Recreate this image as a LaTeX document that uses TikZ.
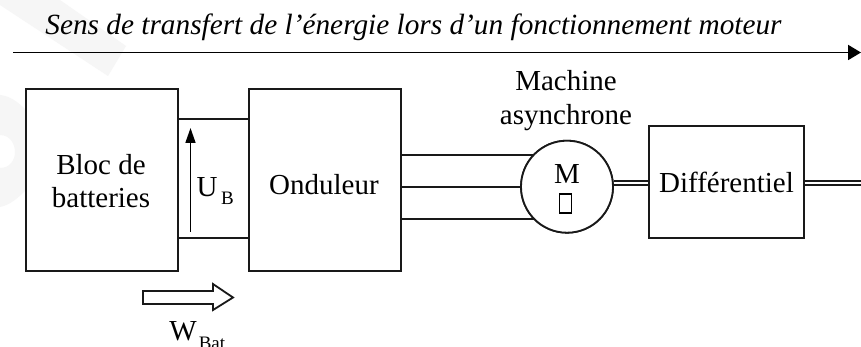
\documentclass[tikz,border=0pt]{standalone}
\usepackage{fontspec}
\setmainfont{Liberation Serif}
\usetikzlibrary{arrows.meta}
\definecolor{wm}{HTML}{F6F6F6}
\tikzset{
  ln/.style={line width=1.8pt,draw=black!90},
  blockbox/.style={ln,rectangle,inner sep=0pt,align=center,font=\fontsize{29}{34}\selectfont},
  lab/.style={anchor=base,inner sep=0pt,font=\fontsize{29}{34}\selectfont},
  subl/.style={anchor=base,inner sep=0pt,font=\fontsize{19}{22}\selectfont},
  dbl/.style={line width=1.6pt,draw=black!90,double=white,double distance=2.4pt},
}
\begin{document}
\begin{tikzpicture}[x=1pt,y=-1pt]
\useasboundingbox (0,0) rectangle (861,347);
\fill[white] (0,0) rectangle (861,347);
\fill[wm] (60,0) -- (126,46) -- (108,76) -- (0,5) -- (0,0) -- cycle;
\fill[wm] (0,95) .. controls (10,96) and (18,102) .. (26,110) -- (26,190) .. controls (18,198) and (10,205) .. (0,207) -- (0,168) .. controls (10,168) and (15,160) .. (15,152) .. controls (15,144) and (10,135) .. (0,135) -- cycle;
% title
\node[anchor=base,inner sep=0pt,font=\itshape\fontsize{29.3}{34}\selectfont] (title) at (413.5,35) {Sens de transfert de l’énergie lors d’un fonctionnement moteur};
\coordinate (fs) at (13,52.5);
\coordinate (fe) at (861,52.5);
\draw[line width=1.9pt,-{Triangle[length=13pt,width=15pt]}] (fs) -- (fe);
% blocks
\node[blockbox,minimum width=152pt,minimum height=182pt] (bat) at (102,180) {};
\node[lab] at (101,175) {Bloc de};
\node[lab] at (101,208) {batteries};
\node[blockbox,minimum width=152pt,minimum height=182pt] (ond) at (325,180) {};
\node[lab] at (324,195) {Onduleur};
\node[blockbox,minimum width=155pt,minimum height=112pt] (dif) at (726.5,182) {};
\node[lab] at (726.5,193) {Différentiel};
% DC link
\draw[ln] (bat.east |- 0,119) -- (ond.west |- 0,119);
\draw[ln] (bat.east |- 0,238) -- (ond.west |- 0,238);
\coordinate (ua) at (190.5,232);
\coordinate (ub) at (190.5,128);
\draw[line width=1.7pt,-{Triangle[length=15pt,width=10pt]}] (ua) -- (ub);
\node[lab] (ulab) at (207,197) {U};
\node[subl] (usub) at (227.5,205) {B};
% three phases
\node[ln,circle,minimum size=92pt,inner sep=0pt] (mot) at (567,186.7) {};
\coordinate (p1) at (ond.east |- 0,155.4);
\coordinate (p2) at (ond.east |- 0,187.4);
\coordinate (p3) at (ond.east |- 0,219.4);
\draw[ln] (p1) -- (mot.center |- p1);
\draw[ln] (p2) -- (mot.center |- p2);
\draw[ln] (p3) -- (mot.center |- p3);
\node[ln,circle,minimum size=92pt,inner sep=0pt,fill=white] (motor) at (567,186.7) {};
\node[lab] at (567,184) {M};
\node[draw=black,line width=1.5pt,minimum width=12pt,minimum height=19pt,inner sep=0pt] (tofu) at (565.7,203.5) {};
\node[lab] at (566,91) {Machine};
\node[lab] at (566,125) {asynchrone};
% shafts
\draw[dbl] (motor.east |- 0,183) -- (dif.west |- 0,183);
\coordinate (shaft) at (861,183);
\draw[dbl] (dif.east |- 0,183) -- (shaft);
% power arrow
\draw[ln,line join=miter] (143,291) -- (213,291) -- (213,284) -- (233,297.5) -- (213,310) -- (213,304) -- (143,304) -- cycle;
\node[lab] (wlab) at (183,340) {W};
\node[subl] (wsub) at (212,349) {Bat};
\end{tikzpicture}
\end{document}
